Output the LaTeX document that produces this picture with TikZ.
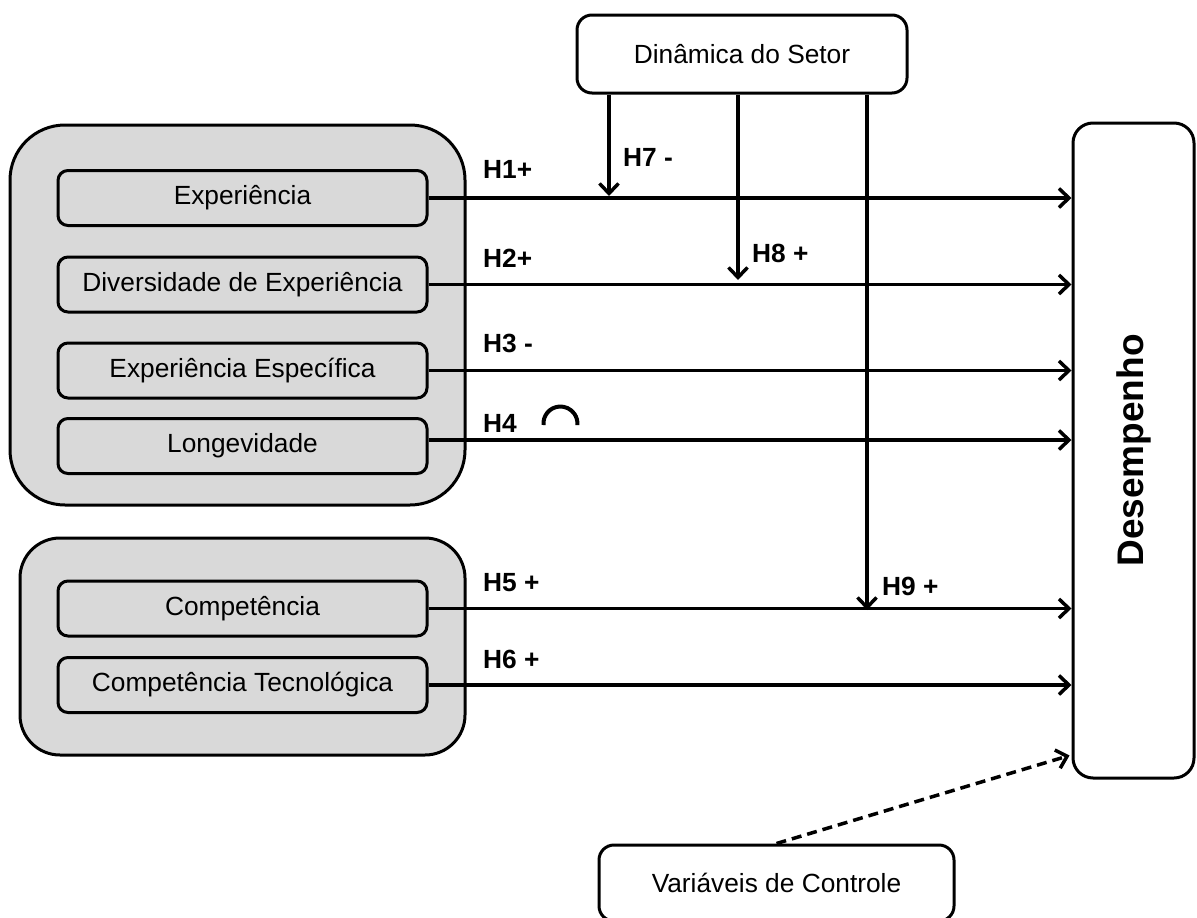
\documentclass[tikz,border=0pt]{standalone}
\usepackage{fontspec}
\usepackage{graphicx}
\setmainfont{Liberation Sans}
\usetikzlibrary{arrows.meta}
\definecolor{boxgray}{HTML}{D9D9D9}
\begin{document}
\begin{tikzpicture}[x=1pt,y=-1pt,
  every node/.style={font=\fontsize{26.3}{31}\selectfont},
  group/.style={draw, line width=3pt, fill=boxgray, inner sep=0pt},
  item/.style={draw, line width=3pt, fill=boxgray, rounded corners=10pt,
    minimum width=369pt, minimum height=55pt, inner sep=0pt},
  wbox/.style={draw, line width=3pt, fill=white, rounded corners=15pt, inner sep=0pt},
  conn/.style={line width=3.5pt, -{Straight Barb[length=10pt,width=19pt]}},
  dconn/.style={conn, dash pattern=on 10pt off 6pt},
  lab/.style={font=\fontsize{26.3}{31}\selectfont\bfseries, inner sep=0pt, anchor=west},
]
\useasboundingbox (0,0) rectangle (1197,918);
\clip (0,0) rectangle (1197,918);

% groups
\node[group, rounded corners=55pt, minimum width=455pt, minimum height=380pt] (g1) at (237.5,315) {};
\node[group, rounded corners=40pt, minimum width=445pt, minimum height=217pt] (g2) at (242.5,646.5) {};

% items
\node[item] (exp) at (242.5,198) {Experiência};
\node[item] (div) at (242.5,284.5) {Diversidade de Experiência};
\node[item] (esp) at (242.5,370.5) {Experiência Específica};
\node[item] (lon) at (242.5,446) {Longevidade};
\node[item] (com) at (242.5,608.5) {Competência};
\node[item] (tec) at (242.5,685) {Competência Tecnológica};

% other boxes
\node[wbox, minimum width=330pt, minimum height=78pt] (dyn) at (742,54) {Dinâmica do Setor};
\node[wbox, rounded corners=20pt, minimum width=121pt, minimum height=655pt] (des) at (1133.5,450.5)
  {\fontsize{37}{44}\selectfont\bfseries\rotatebox{90}{Desempenho}};
\node[wbox, minimum width=355pt, minimum height=76pt] (var) at (776.5,883) {Variáveis de Controle};

% main connectors
\draw[conn] (exp.east) -- (exp.east -| des.west);
\draw[conn] (div.east) -- (div.east -| des.west);
\draw[conn] (esp.east) -- (esp.east -| des.west);
\coordinate (l4) at ([yshift=6pt]lon.east);
\draw[conn] (l4) -- (l4 -| des.west);
\draw[conn] (com.east) -- (com.east -| des.west);
\draw[conn] (tec.east) -- (tec.east -| des.west);

% moderators
\coordinate (m7) at (609,196);
\coordinate (m8) at (738,280);
\coordinate (m9) at (867,610);
\draw[conn] (m7 |- dyn.south) -- (m7);
\draw[conn] (m8 |- dyn.south) -- (m8);
\draw[conn] (m9 |- dyn.south) -- (m9);

% control
\coordinate (dend) at ([yshift=24pt,xshift=-2pt]des.south west);
\draw[dconn] (var.north) -- (dend);

% labels
\node[lab] (h1) at (483,169) {H1+};
\node[lab] (h7) at (623,157) {H7 -};
\node[lab] (h2) at (483,258) {H2+};
\node[lab] (h8) at (752,253) {H8 +};
\node[lab] (h3) at (483,343) {H3 -};
\node[lab] (h4) at (483,423) {H4};
\node[lab] (h5) at (483,583) {H5 +};
\node[lab] (h9) at (882,586) {H9 +};
\node[lab] (h6) at (483,659) {H6 +};

% inverted U symbol
\draw[line width=4pt] (543.5,425) arc[start angle=175, end angle=365, radius=17];
\end{tikzpicture}
\end{document}
